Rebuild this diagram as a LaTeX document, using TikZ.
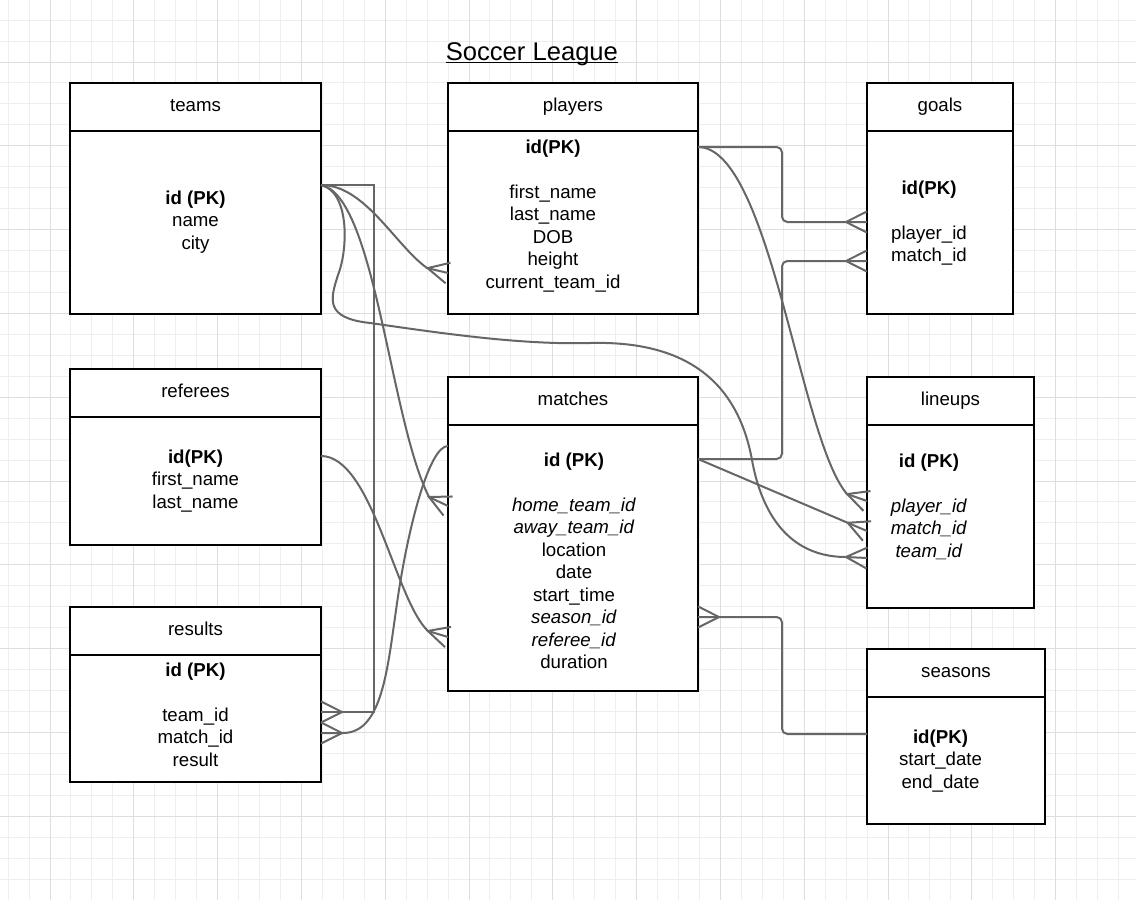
\documentclass[tikz,border=0pt]{standalone}
\usepackage{fontspec}
\setmainfont{Liberation Sans}
\usetikzlibrary{fit,calc}
\definecolor{conn}{HTML}{666666}
\definecolor{gridminor}{HTML}{EEEEEE}
\definecolor{gridmajor}{HTML}{DEDEDE}
\pgfdeclarearrow{
  name = Crow,
  setup code = {
    \pgfarrowssettipend{0pt}
    \pgfarrowssetlineend{0pt}
    \pgfarrowssetbackend{-15.75pt}
    \pgfarrowshullpoint{0pt}{7.9pt}
    \pgfarrowshullpoint{0pt}{-7.9pt}
    \pgfarrowshullpoint{-15.75pt}{0pt}
  },
  drawing code = {
    \pgfsetdash{}{0pt}
    \pgfpathmoveto{\pgfqpoint{0pt}{7.9pt}}
    \pgfpathlineto{\pgfqpoint{-15.75pt}{0pt}}
    \pgfpathlineto{\pgfqpoint{0pt}{-7.9pt}}
    \pgfusepathqstroke
  }
}
\tikzset{
  box/.style={draw=black, line width=1.5pt, fill=white, inner sep=0pt, outer sep=0pt},
  sepline/.style={draw=black, line width=1.5pt},
  txt/.style={font=\fontsize{14}{16.875}\selectfont, inner sep=0pt, anchor=base},
  link/.style={draw=conn, line width=1.5pt},
  crowlink/.style={link, -Crow},
  rlink/.style={link, rounded corners=4pt, -Crow}
}
\newcommand{\fields}[1]{\begin{tabular}[t]{@{}c@{}}#1\end{tabular}}
\begin{document}
\begin{tikzpicture}[x=0.75pt,y=-0.75pt]
\useasboundingbox (0,0) rectangle (1136,900);
\fill[white] (0,0) rectangle (1136,900);
\begin{scope}
\clip (0,0) rectangle (1136,900);
\foreach \i in {0,...,53} \draw[gridminor, line width=0.75pt] (8.1+20.95*\i,0) -- (8.1+20.95*\i,900);
\foreach \j in {0,...,42} \draw[gridminor, line width=0.75pt] (0,20.1+20.95*\j) -- (1136,20.1+20.95*\j);
\foreach \i in {0,...,12} \draw[gridmajor, line width=0.75pt] (50+83.8*\i,0) -- (50+83.8*\i,900);
\foreach \j in {0,...,9} \draw[gridmajor, line width=0.75pt] (0,62+83.8*\j) -- (1136,62+83.8*\j);
\end{scope}

% title
\node[font=\fontsize{19.2}{23}\selectfont, inner sep=0pt, anchor=base] (title) at (531.9,60) {Soccer League};
\draw[line width=1.1pt] ($(title.base west)+(0,2.7)$) -- ($(title.base east)+(0,2.7)$);

% boxes
\node[box, fit={(70,83)(321,314)}] (teams) {};
\node[box, fit={(448,83)(698,314)}] (players) {};
\node[box, fit={(867,83)(1013,314)}] (goals) {};
\node[box, fit={(70,369)(321,545)}] (referees) {};
\node[box, fit={(448,377)(698,691)}] (matches) {};
\node[box, fit={(867,377)(1034,608)}] (lineups) {};
\node[box, fit={(70,607)(321,782)}] (results) {};
\node[box, fit={(867,649)(1045,824)}] (seasons) {};

\draw[sepline] (teams.west |- 0,131) -- (teams.east |- 0,131);
\draw[sepline] (players.west |- 0,131) -- (players.east |- 0,131);
\draw[sepline] (goals.west |- 0,131) -- (goals.east |- 0,131);
\draw[sepline] (referees.west |- 0,417) -- (referees.east |- 0,417);
\draw[sepline] (matches.west |- 0,425) -- (matches.east |- 0,425);
\draw[sepline] (lineups.west |- 0,425) -- (lineups.east |- 0,425);
\draw[sepline] (results.west |- 0,655) -- (results.east |- 0,655);
\draw[sepline] (seasons.west |- 0,697) -- (seasons.east |- 0,697);

% headers
\node[txt] (teamsH) at (195.5,111.3) {teams};
\node[txt] (playersH) at (573,111.3) {players};
\node[txt] (goalsH) at (940,111.3) {goals};
\node[txt] (refereesH) at (195.5,397.3) {referees};
\node[txt] (matchesH) at (573,405.3) {matches};
\node[txt] (lineupsH) at (950.5,405.3) {lineups};
\node[txt] (resultsH) at (195.5,635.3) {results};
\node[txt] (seasonsH) at (956,677.3) {seasons};

% bodies
\node[txt] (teamsB) at (195.5,204) {\fields{\textbf{id (PK)}\\ name\\ city}};
\node[txt] (playersB) at (553,153) {\fields{\textbf{id(PK)}\\ \\ first\_name\\ last\_name\\ DOB\\ height\\ current\_team\_id}};
\node[txt] (goalsB) at (929,194) {\fields{\textbf{id(PK)}\\ \\ player\_id\\ match\_id}};
\node[txt] (refereesB) at (195.5,463) {\fields{\textbf{id(PK)}\\ first\_name\\ last\_name}};
\node[txt] (matchesB) at (574,466) {\fields{\textbf{id (PK)}\\ \\ \textit{home\_team\_id}\\ \textit{away\_team\_id}\\ location\\ date\\ start\_time\\ \textit{season\_id}\\ \textit{referee\_id}\\ duration}};
\node[txt] (lineupsB) at (929,467) {\fields{\textbf{id (PK)}\\ \\ \textit{player\_id}\\ \textit{match\_id}\\ \textit{team\_id}}};
\node[txt] (resultsB) at (195.5,676) {\fields{\textbf{id (PK)}\\ \\ team\_id\\ match\_id\\ result}};
\node[txt] (seasonsB) at (940.5,743) {\fields{\textbf{id(PK)}\\ start\_date\\ end\_date}};

% ports
\coordinate (tP) at (teams.east |- 0,185);
\coordinate (pR) at (players.east |- 0,147);
\coordinate (pL) at (players.west |- 0,273);
\coordinate (mL1) at (matches.west |- 0,506);
\coordinate (mL2) at (matches.west |- 0,446);
\coordinate (mL3) at (matches.west |- 0,637);
\coordinate (mR1) at (matches.east |- 0,459);
\coordinate (mR2) at (matches.east |- 0,617);
\coordinate (gL1) at (goals.west |- 0,222);
\coordinate (gL2) at (goals.west |- 0,261);
\coordinate (lL1) at (lineups.west |- 0,501);
\coordinate (lL2) at (lineups.west |- 0,531);
\coordinate (lL3) at (lineups.west |- 0,558);
\coordinate (rR1) at (results.east |- 0,712);
\coordinate (rR2) at (results.east |- 0,733);
\coordinate (sL) at (seasons.west |- 0,734);
\coordinate (refR) at (referees.east |- 0,456);

% connectors
\draw[crowlink] (tP) -- (374,185) |- (rR1);
\draw[crowlink] (tP) .. controls (365,185) and (395,245) .. (427,268) -- (pL);
\draw[crowlink] (tP) .. controls (375,195) and (390,420) .. (429,497) -- (mL1);
\draw[crowlink] (tP) .. controls (350,192) and (348,250) .. (338,275)
  .. controls (330,300) and (325,318) .. (370,323)
  .. controls (440,333) and (520,345) .. (590,343)
  .. controls (700,340) and (740,395) .. (752,460)
  .. controls (759,499) and (780,557) .. (846,557) -- (lL3);
\draw[crowlink] (mL2) .. controls (430,446) and (410,520) .. (399,590)
  .. controls (388,660) and (385,733) .. (343,733) -- (rR2);
\draw[crowlink] (refR) .. controls (372,456) and (395,600) .. (428,631) -- (mL3);
\draw[crowlink] (pR) .. controls (770,147) and (800,440) .. (847,494) -- (lL1);
\draw[crowlink] (mR1) -- (lL2);
\draw[rlink] (pR) -- (782,147) |- (gL1);
\draw[rlink] (mR1) -- (782,459) |- (gL2);
\draw[rlink] (sL) -- (782,734) |- (mR2);
\end{tikzpicture}
\end{document}
